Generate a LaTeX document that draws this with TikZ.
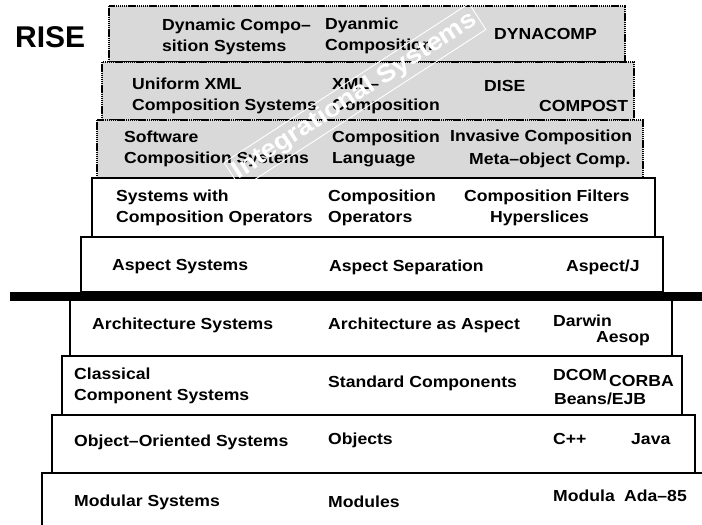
\documentclass[tikz,border=0pt]{standalone}
\usepackage{fontspec}
\newfontfamily\labfont{Liberation Sans}[FakeStretch=1.1]
\newfontfamily\risefont{Liberation Sans}
\begin{document}
\begin{tikzpicture}[x=1pt,y=-1pt,
  lab/.style={font=\labfont\bfseries\fontsize{16}{21}\selectfont, inner sep=0pt, anchor=west, align=left},
  solidbox/.style={draw=black, line width=2.4pt, fill=white},
  dotbox/.style={draw=black, line width=2.8pt, dash pattern=on 1.4pt off 0.7pt, fill=gray!30},
]
\useasboundingbox (0,0) rectangle (702,525);
\fill[white] (0,0) rectangle (702,525);
% boxes, top to bottom
\draw[dotbox] (109,6) rectangle (625,62);
\draw[dotbox] (102,62) rectangle (634,120);
\draw[dotbox] (97,120) rectangle (643,178);
\draw[solidbox] (92,178) rectangle (655,237);
\draw[solidbox] (81,237) rectangle (663,292);
\draw[solidbox] (70,297) rectangle (672,356);
\draw[solidbox] (62,356) rectangle (682,415);
\draw[solidbox] (52,415) rectangle (695,473);
\draw[solidbox] (42,473) rectangle (712,540);
\fill[black] (10,292) rectangle (702,301);
% RISE
\node[font=\risefont\bfseries\fontsize{30}{30}\selectfont, inner sep=0pt, anchor=west] (rise) at (15,37) {RISE};
% row 9
\node[lab] (dyn1) at (162,37) {Dynamic Compo–\\sition Systems};
\node[lab] (dyn2) at (325,36) {Dyanmic\\Composition};
\node[lab] (dyn3) at (494,34) {DYNACOMP};
% row 8
\node[lab] (xml1) at (132,96) {Uniform XML\\Composition Systems};
\node[lab] (xml2) at (332,96) {XML–\\Composition};
\node[lab] (dise) at (484,86) {DISE};
\node[lab] (compost) at (539,106) {COMPOST};
% row 7
\node[lab] (sw1) at (124,149) {Software\\Composition Systems};
\node[lab] (sw2) at (332,149) {Composition\\Language};
\node[lab] (inv) at (450,137) {Invasive Composition};
\node[lab] (meta) at (469,160) {Meta–object Comp.};
% row 6
\node[lab] (op1) at (116,208) {Systems with\\Composition Operators};
\node[lab] (op2) at (328,208) {Composition\\Operators};
\node[lab] (filt) at (464,197) {Composition Filters};
\node[lab] (hyp) at (490,218) {Hyperslices};
% row 5
\node[lab] (asp1) at (112,267) {Aspect Systems};
\node[lab] (asp2) at (329,267) {Aspect Separation};
\node[lab] (asp3) at (566,267) {Aspect/J};
% row 4
\node[lab] (arc1) at (92,325) {Architecture Systems};
\node[lab] (arc2) at (328,325) {Architecture as Aspect};
\node[lab] (darwin) at (553,321) {Darwin};
\node[lab] (aesop) at (596,339) {Aesop};
% row 3
\node[lab] (cc1) at (74,386) {Classical\\Component Systems};
\node[lab] (cc2) at (328,383) {Standard Components};
\node[lab] (dcom) at (553,375) {DCOM};
\node[lab] (corba) at (609,381) {CORBA};
\node[lab] (beans) at (554,399) {Beans/EJB};
% row 2
\node[lab] (oo1) at (74,442) {Object–Oriented Systems};
\node[lab] (oo2) at (328,440) {Objects};
\node[lab] (cpp) at (553,439) {C++};
\node[lab] (java) at (631,439) {Java};
% row 1
\node[lab] (mod1) at (74,502) {Modular Systems};
\node[lab] (mod2) at (328,502) {Modules};
\node[lab] (modula) at (553,496) {Modula};
\node[lab] (ada) at (624,496) {Ada–85};
% watermark
\node[rotate=33, draw=white, line width=0.9pt, minimum width=292pt, minimum height=31pt, inner sep=0pt, text=white, font=\labfont\bfseries\fontsize{25}{25}\selectfont] (wm) at (355,96) {Integrational Systems};
\end{tikzpicture}
\end{document}
